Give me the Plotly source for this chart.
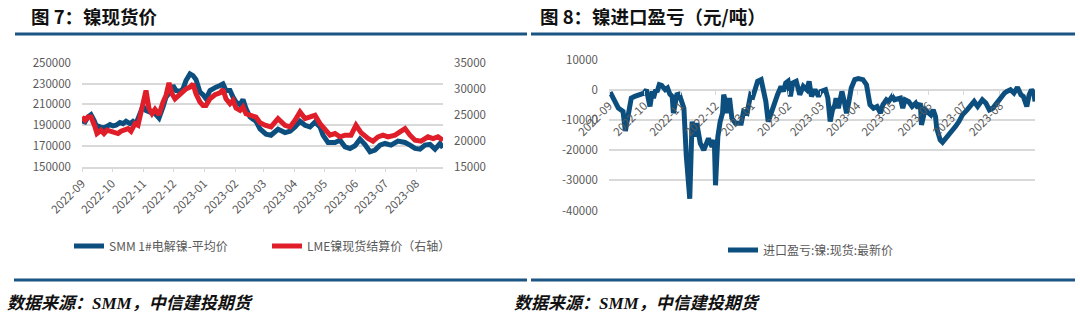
import plotly.graph_objects as go

W, H = 1080, 313

# ---------------- data ----------------
smm_dates = [
    "2022-09-01", "2022-09-04", "2022-09-07", "2022-09-10", "2022-09-13", "2022-09-15", "2022-09-19", "2022-09-22", "2022-09-25", "2022-09-29",
    "2022-10-02", "2022-10-05", "2022-10-09", "2022-10-12", "2022-10-15", "2022-10-19", "2022-10-22", "2022-10-25", "2022-10-29",
    "2022-11-01", "2022-11-04", "2022-11-08", "2022-11-11", "2022-11-14", "2022-11-17", "2022-11-21", "2022-11-24", "2022-11-28",
    "2022-12-01", "2022-12-04", "2022-12-08", "2022-12-11", "2022-12-14", "2022-12-18", "2022-12-21", "2022-12-24", "2022-12-28", "2022-12-31",
    "2023-01-03", "2023-01-07", "2023-01-10", "2023-01-13", "2023-01-17", "2023-01-20", "2023-01-23", "2023-01-27", "2023-01-30",
    "2023-02-02", "2023-02-06", "2023-02-09", "2023-02-12", "2023-02-16", "2023-02-19", "2023-02-22", "2023-02-26",
    "2023-03-01", "2023-03-04", "2023-03-09", "2023-03-16", "2023-03-23", "2023-03-28",
    "2023-04-02", "2023-04-07", "2023-04-12", "2023-04-17", "2023-04-22", "2023-04-27", "2023-04-30",
    "2023-05-05", "2023-05-12", "2023-05-17", "2023-05-22", "2023-05-27",
    "2023-06-01", "2023-06-06", "2023-06-11", "2023-06-16", "2023-06-21", "2023-06-26",
    "2023-07-01", "2023-07-07", "2023-07-14", "2023-07-21", "2023-07-26", "2023-07-31",
    "2023-08-05", "2023-08-10", "2023-08-15", "2023-08-20", "2023-08-25", "2023-08-28",
]
smm_price = [
    194000, 193040, 197840, 200080, 194640, 189840, 188240, 187280, 188240, 190480,
    189200, 189840, 192400, 191440, 193680, 191440, 193680, 191440, 201040,
    208400, 204240, 202640, 203280, 200080, 196880, 207440, 217040, 221840,
    228240, 223440, 222480, 225040, 233040, 239440, 237840, 234000, 221840, 219280,
    215440, 223440, 225680, 226640, 228240, 229840, 223440, 223440, 217040,
    212240, 209680, 214800, 205840, 197840, 195600, 193680, 186400,
    183840, 181200, 180240, 186000, 182800, 184080,
    188240, 193680, 189840, 188240, 193040, 188240, 180240,
    173200, 173200, 175440, 169040, 167440,
    170000, 176400, 171280, 164240, 165840, 170640,
    172240, 170640, 174480, 173200, 170640, 167440,
    166800, 170640, 171280, 166800, 172240, 168080,
]

lme_dates = [
    "2022-09-01", "2022-09-04", "2022-09-07", "2022-09-10", "2022-09-14", "2022-09-16", "2022-09-20", "2022-09-23", "2022-09-26", "2022-09-30",
    "2022-10-04", "2022-10-07", "2022-10-10", "2022-10-14", "2022-10-17", "2022-10-20", "2022-10-24", "2022-10-27", "2022-10-30",
    "2022-11-03", "2022-11-04", "2022-11-07", "2022-11-10", "2022-11-13", "2022-11-17", "2022-11-21", "2022-11-24", "2022-11-27", "2022-11-30",
    "2022-12-03", "2022-12-07", "2022-12-11", "2022-12-14", "2022-12-18", "2022-12-21", "2022-12-24", "2022-12-28", "2022-12-31",
    "2023-01-03", "2023-01-07", "2023-01-12", "2023-01-17", "2023-01-20", "2023-01-23", "2023-01-27", "2023-01-30",
    "2023-02-02", "2023-02-06", "2023-02-09", "2023-02-12", "2023-02-17", "2023-02-22", "2023-02-26",
    "2023-03-03", "2023-03-09", "2023-03-16", "2023-03-23", "2023-03-28",
    "2023-04-02", "2023-04-07", "2023-04-12", "2023-04-17", "2023-04-22", "2023-04-27",
    "2023-05-02", "2023-05-07", "2023-05-12", "2023-05-17", "2023-05-22", "2023-05-28",
    "2023-06-02", "2023-06-07", "2023-06-14", "2023-06-19", "2023-06-24", "2023-06-29",
    "2023-07-04", "2023-07-11", "2023-07-16", "2023-07-21", "2023-07-26", "2023-07-31",
    "2023-08-06", "2023-08-13", "2023-08-18", "2023-08-23", "2023-08-28",
]
lme_price = [
    24570, 23930, 24570, 24570, 22650, 21370, 22010, 21370, 22010, 21820,
    21560, 21370, 21820, 22010, 22330, 21820, 23290, 22970, 25530,
    28730, 29690, 26170, 25210, 26040, 25020, 27450, 28730, 31160, 29050,
    28090, 28730, 29370, 30010, 30330, 30970, 29050, 27450, 26810,
    26810, 28090, 28860, 29240, 29890, 28090, 27130, 27770,
    26300, 25850, 26490, 25180, 24860, 24540, 23480,
    22970, 22650, 24250, 22970, 22650,
    23930, 25530, 24250, 24570, 24890, 23290,
    22010, 21050, 21370, 20730, 21050, 21050,
    22970, 21560, 20410, 19900, 20730, 21050,
    20730, 21050, 21690, 22330, 21050, 20090,
    19900, 20730, 20410, 20730, 20090,
]

imp_dates = [
    "2022-09-02", "2022-09-09", "2022-09-11", "2022-09-13", "2022-09-15", "2022-09-18", "2022-09-20", "2022-09-23", "2022-09-26",
    "2022-10-01", "2022-10-03", "2022-10-06", "2022-10-08", "2022-10-09", "2022-10-11", "2022-10-12", "2022-10-14", "2022-10-16",
    "2022-10-19", "2022-10-21", "2022-10-23", "2022-10-25", "2022-10-26", "2022-10-29", "2022-10-31",
    "2022-11-02", "2022-11-04", "2022-11-06", "2022-11-09", "2022-11-11", "2022-11-13", "2022-11-15", "2022-11-17", "2022-11-18",
    "2022-11-21", "2022-11-23", "2022-11-25", "2022-11-28", "2022-11-30",
    "2022-12-01", "2022-12-03", "2022-12-05", "2022-12-07", "2022-12-08", "2022-12-10", "2022-12-11", "2022-12-13", "2022-12-15",
    "2022-12-18", "2022-12-23", "2022-12-25", "2022-12-28", "2022-12-31",
    "2023-01-02", "2023-01-04", "2023-01-06", "2023-01-09", "2023-01-12", "2023-01-13", "2023-01-15", "2023-01-17", "2023-01-20",
    "2023-01-23", "2023-01-26", "2023-01-28", "2023-01-30",
    "2023-02-01", "2023-02-03", "2023-02-05", "2023-02-08", "2023-02-11", "2023-02-14", "2023-02-17", "2023-02-19", "2023-02-21",
    "2023-02-24", "2023-02-27",
    "2023-03-01", "2023-03-05", "2023-03-07", "2023-03-09", "2023-03-11", "2023-03-13", "2023-03-14", "2023-03-16", "2023-03-19",
    "2023-03-21", "2023-03-23", "2023-03-25", "2023-03-27", "2023-03-30",
    "2023-04-02", "2023-04-06", "2023-04-09", "2023-04-12", "2023-04-15", "2023-04-18", "2023-04-21", "2023-04-23", "2023-04-26",
    "2023-04-28",
    "2023-05-01", "2023-05-03", "2023-05-08", "2023-05-10", "2023-05-12", "2023-05-15", "2023-05-18", "2023-05-21", "2023-05-23",
    "2023-05-25", "2023-05-26", "2023-05-29", "2023-05-31",
    "2023-06-03", "2023-06-05", "2023-06-07", "2023-06-08", "2023-06-11", "2023-06-13", "2023-06-16", "2023-06-18", "2023-06-21",
    "2023-06-24", "2023-06-27", "2023-06-30",
    "2023-07-04", "2023-07-07", "2023-07-10", "2023-07-13", "2023-07-17", "2023-07-20", "2023-07-23", "2023-07-26", "2023-07-28",
    "2023-08-02", "2023-08-05", "2023-08-07", "2023-08-10", "2023-08-13", "2023-08-16", "2023-08-19", "2023-08-21", "2023-08-24",
    "2023-08-26", "2023-08-28", "2023-08-30", "2023-08-31",
]
imp_profit = [
    -780, -6110, -6670, -7220, -13670, -6110, -2780, -2220, -1670,
    -1110, 0, -5560, -560, -2780, 0, -780, 1670, 1440,
    0, 560, -1440, -2220, -7780, -1670, -1440,
    -4440, -6110, -21660, -36110, -10550, -15550, -11110, -17220, -17780,
    -20000, -18330, -16110, -18890, -16670,
    -31660, -15550, -10550, -7780, -1670, -4440, -7780, -2780, -9440,
    -11110, -11110, -7220, -7780, -1670,
    -2220, 560, 2780, 3330, -2780, -3890, -10550, -7780, -5000,
    -1670, 1110, -560, 2220,
    2780, -2220, 2220, 2780, -1670, 1110, 0, 2780, -2220,
    0, -2220,
    -560, 0, -2780, -10550, -6670, -5000, -2780, -6110, -560,
    -3890, -7780, -3890, 560, 3330,
    3670, 3330, 1670, -5000, -6110, -5560, -7780, -5000, -3330,
    -3890,
    -2220, -3330, -2780, -6110, -3330, -3890, -5560, -4440, -6110,
    -4440, -11670, -6670, -7220,
    -8330, -6670, -8890, -12780, -16670, -17440, -16110, -15000, -13890,
    -12220, -10550, -8330,
    -6670, -5000, -3890, -5560, -3330, -4440, -6670, -6110, -5000,
    -2780, -1110, -560, 0, -1110, 780, -1670, -2220, -5560,
    -1670, 0, -1110, -3890,
]

left_ticks = [150000, 170000, 190000, 210000, 230000, 250000]
right_ticks = [15000, 20000, 25000, 30000, 35000]
imp_ticks = [10000, 0, -10000, -20000, -30000, -40000]

title_left = "图 7：镍现货价"
title_right = "图 8：镍进口盈亏（元/吨）"
source_text = "数据来源：<span style=\"font-family:'Liberation Serif'\">SMM</span>，中信建投期货"
name_smm = "SMM 1#电解镍-平均价"
name_lme = "LME镍现货结算价（右轴）"
name_imp = "进口盈亏:镍:现货:最新价"

# ---------------- style ----------------
BLUE = "#0c4f7f"
RED = "#e01e2a"
RULE = "#1a5583"
GRID = "#d9d9d9"
TXT = "#595959"
FONT = "Noto Sans CJK SC, Noto Sans, sans-serif"


def px(x):
    return x / W


def py(y):
    return 1 - y / H


fig = go.Figure()

fig.add_trace(go.Scatter(x=smm_dates, y=smm_price, name=name_smm, mode="lines",
                         line=dict(color=BLUE, width=5), xaxis="x", yaxis="y", legend="legend"))
fig.add_trace(go.Scatter(x=lme_dates, y=lme_price, name=name_lme, mode="lines",
                         line=dict(color=RED, width=5), xaxis="x", yaxis="y2", legend="legend"))
fig.add_trace(go.Scatter(x=imp_dates, y=imp_profit, name=name_imp, mode="lines",
                         line=dict(color=BLUE, width=5), xaxis="x2", yaxis="y3", legend="legend2"))

tickfont = dict(family=FONT, size=11.5, color=TXT)

imp_range = [-40000, 10000]
y3_dom = [py(210.5), py(59.5)]
zero_pos = y3_dom[0] + (0 - imp_range[0]) / (imp_range[1] - imp_range[0]) * (y3_dom[1] - y3_dom[0])

fig.update_layout(
    width=W, height=H,
    margin=dict(l=0, r=0, t=0, b=0, autoexpand=False),
    paper_bgcolor="white", plot_bgcolor="white",
    font=dict(family=FONT, color=TXT),
    xaxis=dict(domain=[px(82), px(443)], range=["2022-09-01", "2023-08-28"],
               type="date", dtick="M1", tick0="2022-09-01", tickformat="%Y-%m",
               tickangle=-45, tickfont=tickfont, showgrid=False, zeroline=False,
               showline=True, linecolor=GRID, linewidth=1.5,
               ticks="outside", ticklen=4, tickcolor=GRID, tickwidth=1.2,
               anchor="y", automargin=False),
    yaxis=dict(domain=[py(166.5), py(63)], range=[150000, 250000], tickvals=left_ticks,
               ticktext=[str(v) for v in left_ticks],
               tickfont=tickfont, showgrid=True, gridcolor=GRID, gridwidth=1.5,
               zeroline=False, showline=False, ticks="", ticklabelstandoff=10,
               anchor="x", automargin=False),
    yaxis2=dict(range=[15000, 35000], tickvals=right_ticks, ticktext=[str(v) for v in right_ticks],
                overlaying="y", side="right",
                tickfont=tickfont, showgrid=False, zeroline=False, showline=False,
                ticks="", ticklabelstandoff=10, anchor="x", automargin=False),
    xaxis2=dict(domain=[px(609), px(1035)], range=["2022-09-01", "2023-08-31"],
                type="date", dtick="M1", tick0="2022-09-01", tickformat="%Y-%m",
                tickangle=-45, tickfont=tickfont, showgrid=False, zeroline=False,
                showline=False, ticks="outside", ticklen=4, tickcolor=GRID, tickwidth=1.2,
                anchor="free", position=zero_pos, automargin=False),
    yaxis3=dict(domain=y3_dom, range=imp_range, tickvals=imp_ticks,
                ticktext=[str(v) for v in imp_ticks],
                tickfont=tickfont, showgrid=True, gridcolor=GRID, gridwidth=1.5,
                zeroline=False, showline=False, ticks="", ticklabelstandoff=10,
                anchor="x2", automargin=False),
    legend=dict(orientation="h", x=px(69), xanchor="left", y=py(246), yanchor="middle",
                font=dict(family=FONT, size=12, color=TXT), bgcolor="rgba(0,0,0,0)",
                entrywidth=153, entrywidthmode="pixels", traceorder="normal"),
    legend2=dict(orientation="h", x=px(723), xanchor="left", y=py(250), yanchor="middle",
                 font=dict(family=FONT, size=12, color=TXT), bgcolor="rgba(0,0,0,0)"),
    showlegend=True,
)

shapes = [
    dict(type="line", xref="paper", yref="paper", x0=px(15), x1=px(527), y0=py(34), y1=py(34),
         line=dict(color=RULE, width=3)),
    dict(type="line", xref="paper", yref="paper", x0=px(531), x1=px(1075), y0=py(34), y1=py(34),
         line=dict(color=RULE, width=3)),
    dict(type="line", xref="paper", yref="paper", x0=px(14), x1=px(527), y0=py(280), y1=py(280),
         line=dict(color=RULE, width=3)),
    dict(type="line", xref="paper", yref="paper", x0=px(531), x1=px(1075), y0=py(280), y1=py(280),
         line=dict(color=RULE, width=3)),
]
fig.update_layout(shapes=shapes)

ann = [
    dict(text="<b>" + title_left + "</b>", x=px(29), y=py(16.5), xref="paper", yref="paper",
         xanchor="left", yanchor="middle", showarrow=False,
         font=dict(family=FONT, size=18.5, color="#111111")),
    dict(text="<b>" + title_right + "</b>", x=px(538), y=py(16.5), xref="paper", yref="paper",
         xanchor="left", yanchor="middle", showarrow=False,
         font=dict(family=FONT, size=18.5, color="#111111")),
    dict(text="<b><i>" + source_text + "</i></b>", x=px(5), y=py(301), xref="paper", yref="paper",
         xanchor="left", yanchor="middle", showarrow=False,
         font=dict(family=FONT, size=17, color="#111111")),
    dict(text="<b><i>" + source_text + "</i></b>", x=px(512), y=py(301), xref="paper", yref="paper",
         xanchor="left", yanchor="middle", showarrow=False,
         font=dict(family=FONT, size=17, color="#111111")),
]
fig.update_layout(annotations=ann)

fig.write_html("out.html")
